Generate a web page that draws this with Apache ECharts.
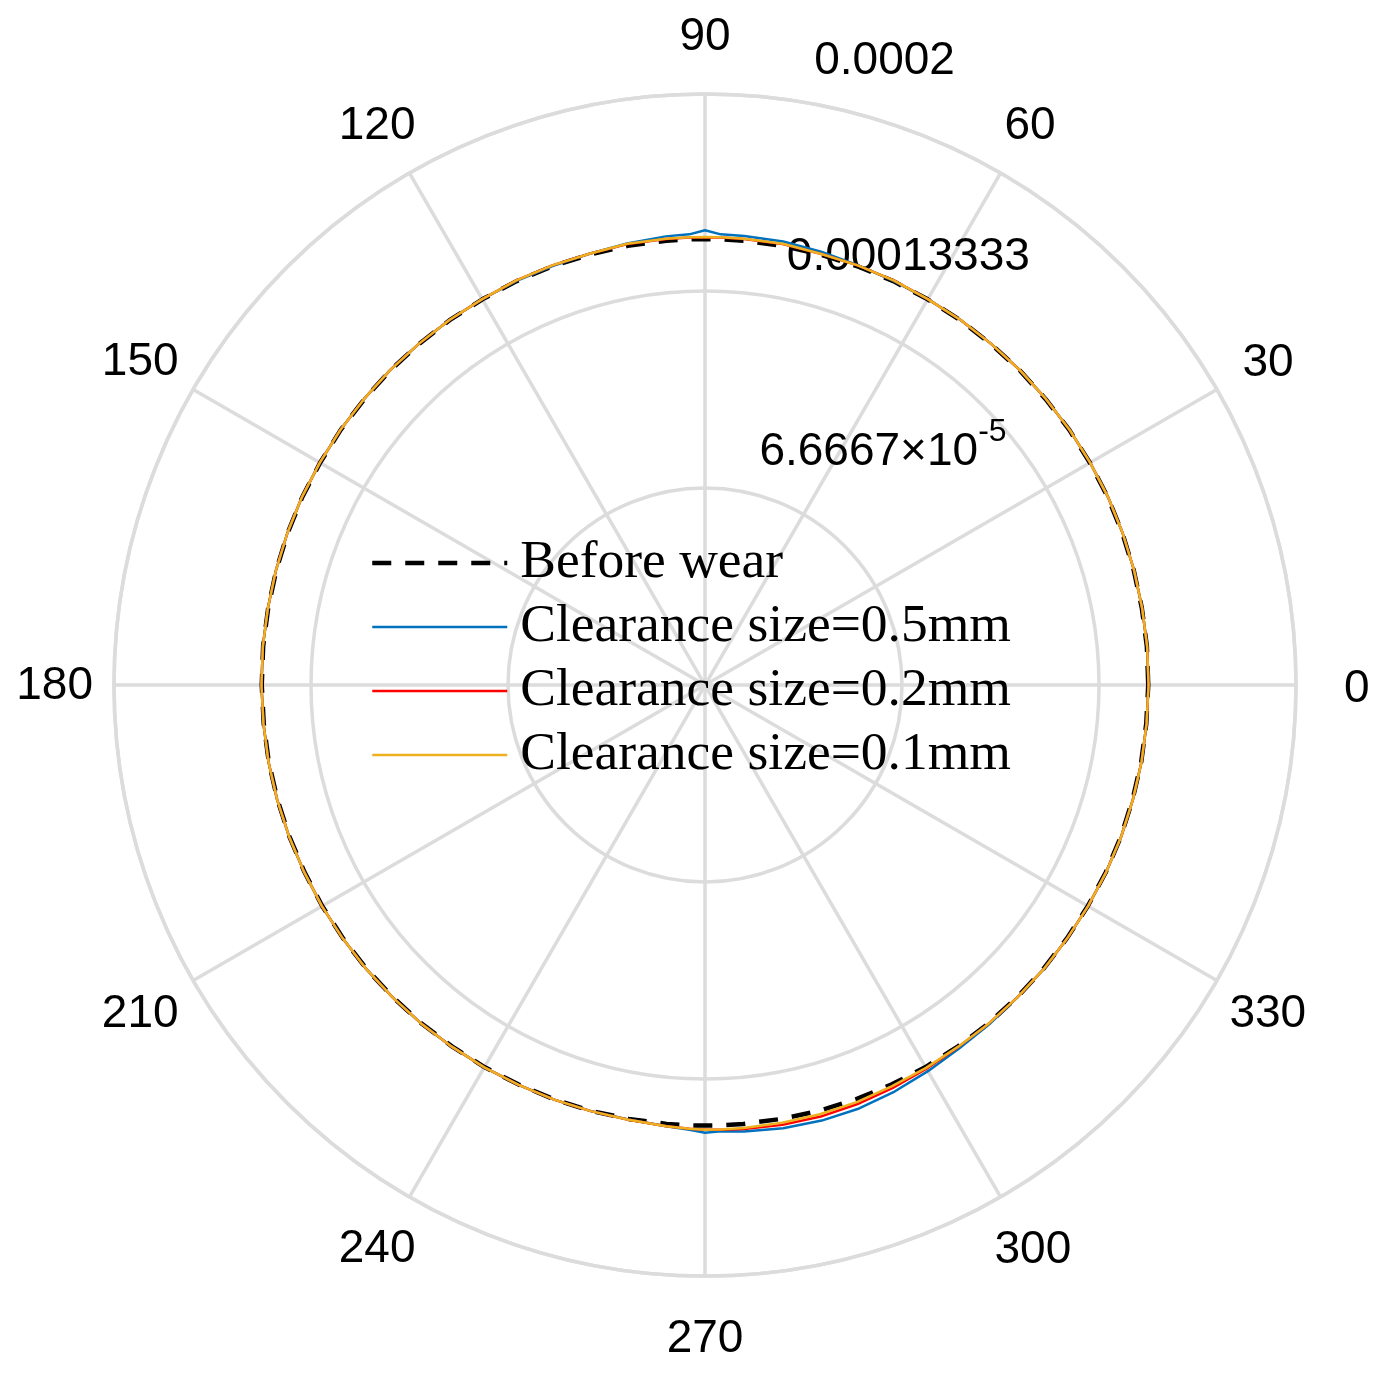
<!DOCTYPE html>
<html>
<head>
<meta charset="utf-8">
<script src="https://cdn.jsdelivr.net/npm/echarts@6/dist/echarts.min.js"></script>
<style>
html,body{margin:0;padding:0;background:#fff;}
#chart{width:1384px;height:1375px;}
</style>
</head>
<body>
<div id="chart"></div>
<script>
// ---- data (radius in µm, angle in degrees) ----
const angles = [0,5,10,15,20,25,30,35,40,45,50,55,60,65,70,75,80,85,88,90,92,95,100,105,110,115,120,125,130,135,140,145,150,155,160,165,170,175,180,185,190,195,200,205,210,215,220,225,230,235,240,245,250,255,260,265,268,270,272,275,280,285,290,295,300,305,310,315,320,325,330,335,340,345,350,355,360];
const beforeWear = [150.0,150.1,150.1,150.2,150.3,150.4,150.4,150.5,150.5,150.6,150.6,150.7,150.7,150.8,150.8,150.8,150.9,150.9,150.9,150.9,150.9,150.9,150.9,150.8,150.8,150.8,150.7,150.7,150.6,150.6,150.5,150.5,150.4,150.4,150.3,150.2,150.1,150.1,150.0,149.9,149.9,149.8,149.7,149.6,149.6,149.5,149.5,149.4,149.4,149.3,149.3,149.2,149.2,149.2,149.1,149.1,149.1,149.1,149.1,149.1,149.1,149.2,149.2,149.2,149.3,149.3,149.4,149.4,149.5,149.5,149.6,149.7,149.8,149.8,149.9,149.9,150.0];
const clearance05 = [150.1,150.2,150.2,150.3,150.4,150.5,150.5,150.6,150.6,150.7,150.7,150.8,150.8,150.9,151.2,151.8,152.4,152.5,152.6,153.9,152.6,152.4,151.7,151.1,150.9,150.9,150.8,150.8,150.7,150.7,150.6,150.6,150.5,150.5,150.4,150.3,150.2,150.2,150.1,150.0,150.0,149.9,149.8,149.7,149.7,149.6,149.6,149.5,149.5,149.4,149.4,149.3,149.3,149.3,149.3,149.9,150.6,151.5,151.1,151.7,152.3,152.6,152.5,151.8,150.9,150.1,149.8,149.5,149.6,149.6,149.7,149.8,149.9,149.9,150.0,150.0,150.1];
const clearance02 = [150.1,150.2,150.2,150.3,150.4,150.5,150.5,150.6,150.6,150.7,150.7,150.8,150.8,151.1,151.1,151.1,151.5,151.5,151.5,151.5,151.5,151.5,151.5,151.1,151.1,151.1,150.8,150.8,150.7,150.7,150.6,150.6,150.5,150.5,150.4,150.3,150.2,150.2,150.1,150.0,150.0,149.9,149.8,149.7,149.7,149.6,149.6,149.5,149.5,149.4,149.4,149.3,149.3,149.3,149.4,149.9,150.3,150.5,150.6,150.8,151.1,151.2,150.9,150.4,149.9,149.5,149.5,149.5,149.6,149.6,149.7,149.8,149.9,149.9,150.0,150.0,150.1];
const clearance01 = [150.1,150.2,150.2,150.3,150.4,150.5,150.5,150.6,150.6,150.7,150.7,150.8,150.8,151.1,151.1,151.1,151.6,151.6,151.6,151.6,151.6,151.6,151.6,151.1,151.1,151.1,150.8,150.8,150.7,150.7,150.6,150.6,150.5,150.5,150.4,150.3,150.2,150.2,150.1,150.0,150.0,149.9,149.8,149.7,149.7,149.6,149.6,149.5,149.5,149.4,149.4,149.3,149.3,149.3,149.4,149.9,150.3,150.5,150.5,150.5,150.4,150.4,150.2,149.8,149.6,149.4,149.5,149.5,149.6,149.6,149.7,149.8,149.9,149.9,150.0,150.0,150.1];
const seriesNames = ['Before wear','Clearance size=0.5mm','Clearance size=0.2mm','Clearance size=0.1mm'];
const angleTicks = [0,30,60,90,120,150,180,210,240,270,300,330];
const radiusMax = 200;
const radiusTickLabels = ['', '6.6667×10{sup|-5}', '0.00013333', '0.0002'];

// ---- styling ----
const gridColor = '#dcdcdc';
// [top, right, bottom, left] label offsets
const angleLabelPad = {0:[8,0,0,60],30:[0,0,9,36],60:[0,0,34,10],90:[0,0,46,0],120:[0,0,34,0],150:[0,25,10,0],180:[2,33,0,0],210:[17,25,0,0],240:[40,0,0,0],270:[52,0,0,0],300:[41,0,0,0],330:[17,0,0,23]};
const rich = {};
angleTicks.forEach(t => {
  rich['a' + t] = {fontFamily:'Liberation Sans', fontSize:46, color:'#000', padding:angleLabelPad[t]};
});

const chart = echarts.init(document.getElementById('chart'), null, {renderer:'canvas'});
const toPairs = vals => angles.map((a, i) => [vals[i], a]);
const lineColors = ['#000000', '#0072BD', '#FF0000', '#EDB120'];
const allVals = [beforeWear, clearance05, clearance02, clearance01];

chart.setOption({
  animation: false,
  backgroundColor: '#ffffff',
  polar: [
    {center: [705, 685], radius: 591},
    {center: [705, 685], radius: 591}
  ],
  angleAxis: [
    {
      polarIndex: 0, type: 'value', min: 0, max: 360, interval: 30,
      startAngle: 0, clockwise: false,
      axisLine: {show: true, lineStyle: {color: gridColor, width: 3.5}},
      axisTick: {show: false},
      splitLine: {show: true, lineStyle: {color: gridColor, width: 3.5}},
      axisLabel: {
        show: true, margin: -12,
        formatter: v => (angleTicks.indexOf(v) >= 0 ? '{a' + v + '|' + v + '}' : ''),
        rich: rich
      }
    },
    {
      polarIndex: 1, type: 'value', min: 0, max: 360, startAngle: 82, clockwise: false,
      axisLine: {show: false}, axisTick: {show: false}, splitLine: {show: false}, axisLabel: {show: false}
    }
  ],
  radiusAxis: [
    {
      polarIndex: 0, type: 'value', min: 0, max: radiusMax, interval: radiusMax / 3,
      axisLine: {show: false}, axisTick: {show: false}, axisLabel: {show: false},
      splitLine: {show: true, lineStyle: {color: gridColor, width: 3.5}}
    },
    {
      polarIndex: 1, type: 'value', min: 0, max: radiusMax, interval: radiusMax / 3,
      axisLine: {show: false}, axisTick: {show: false}, splitLine: {show: false},
      axisLabel: {
        show: true, margin: 0, rotate: 0,
        align: 'left', verticalAlign: 'bottom',
        fontFamily: 'Liberation Sans', fontSize: 46, color: '#000',
        lineHeight: 72, padding: [0, 0, 2, 27],
        showMinLabel: false,
        formatter: v => radiusTickLabels[Math.round(v / (radiusMax / 3))] || '',
        rich: {
          sup: {fontFamily: 'Liberation Sans', fontSize: 32, color: '#000', padding: [0, 0, 40, 0]}
        }
      }
    }
  ],
  legend: {
    orient: 'vertical', left: 370, top: 531, padding: 0,
    itemWidth: 135, itemHeight: 1, itemGap: 0,
    data: seriesNames,
    itemStyle: {opacity: 0, borderWidth: 0},
    lineStyle: {width: 'inherit', type: 'inherit'},
    textStyle: {fontFamily: 'Liberation Serif', fontSize: 53.5, color: '#000', lineHeight: 54, padding: [10, 0, 0, 8]}
  },
  series: seriesNames.map((name, k) => ({
    name: name,
    type: 'line',
    coordinateSystem: 'polar',
    polarIndex: 0,
    symbol: 'none',
    data: toPairs(allVals[k]),
    lineStyle: k === 0
      ? {color: lineColors[k], width: 4.5, type: [19, 14]}
      : {color: lineColors[k], width: 2.5},
    itemStyle: {color: lineColors[k]}
  }))
});
</script>
</body>
</html>
